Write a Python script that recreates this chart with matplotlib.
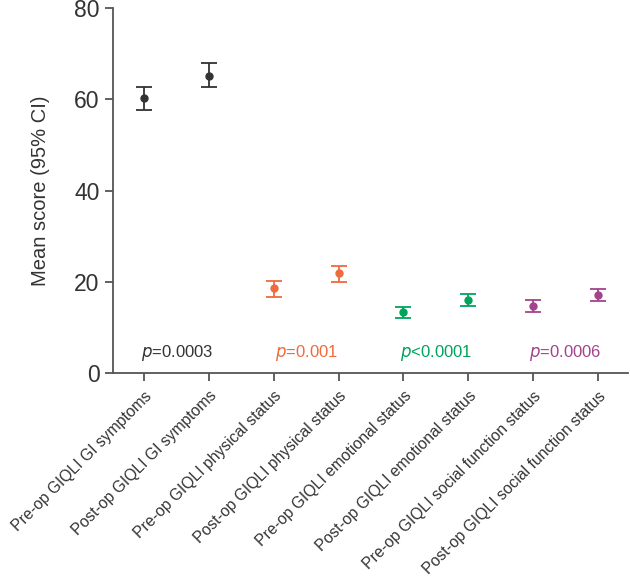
import numpy as np
import matplotlib
matplotlib.use("Agg")
import matplotlib.pyplot as plt

plt.rcParams["font.family"] = ["Liberation Sans", "DejaVu Sans"]

labels = [
    "Pre-op GIQLI GI symptoms",
    "Post-op GIQLI GI symptoms",
    "Pre-op GIQLI physical status",
    "Post-op GIQLI physical status",
    "Pre-op GIQLI emotional status",
    "Post-op GIQLI emotional status",
    "Pre-op GIQLI social function status",
    "Post-op GIQLI social function status",
]
means = [60.2, 65.1, 18.6, 21.9, 13.3, 16.0, 14.6, 17.1]
ci_low = [57.6, 62.7, 16.6, 19.9, 12.0, 14.6, 13.3, 15.7]
ci_high = [62.7, 68.0, 20.1, 23.4, 14.5, 17.3, 16.0, 18.4]
p_texts = [("p", "=0.0003"), ("p", "=0.001"), ("p", "<0.0001"), ("p", "=0.0006")]
colors = ["#333333", "#F06A3C", "#00A35C", "#A2438C"]

fig, ax = plt.subplots(figsize=(6.3, 5.81), dpi=100)
fig.subplots_adjust(left=0.179, right=0.997, top=0.986, bottom=0.358)

x = np.arange(len(labels))
for i in range(len(labels)):
    c = colors[i // 2]
    ax.errorbar(x[i], means[i],
                yerr=[[means[i] - ci_low[i]], [ci_high[i] - means[i]]],
                fmt="o", color=c, ms=5, capsize=6, elinewidth=1.3, capthick=1.3)

for k, (p, rest) in enumerate(p_texts):
    ax.text(2 * k + 0.5, 4.3, r"$\it{p}$" + rest, color=colors[k],
            ha="center", va="center", fontsize=12)

ax.set_xlim(-0.49, 7.47)
ax.set_ylim(0, 80)
ax.set_yticks([0, 20, 40, 60, 80])
ax.set_xticks(x)
ax.set_xticklabels(labels, rotation=45, ha="right", rotation_mode="anchor", fontsize=11.3)
ax.tick_params(axis="y", labelsize=16.5, length=6, width=1.3, color="#555555", labelcolor="#333333")
ax.tick_params(axis="x", length=6, width=1.3, pad=5, color="#555555", labelcolor="#333333")
ax.set_ylabel("Mean score (95% CI)", fontsize=14.5, color="#333333", labelpad=17)
for s in ["top", "right"]:
    ax.spines[s].set_visible(False)
for s in ["left", "bottom"]:
    ax.spines[s].set_color("#555555")
    ax.spines[s].set_linewidth(1.3)

fig.savefig("out.png", dpi=100)
